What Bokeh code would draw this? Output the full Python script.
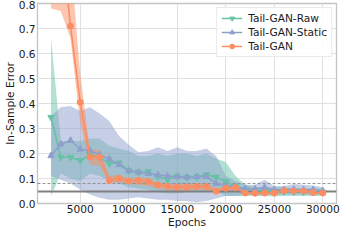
from bokeh.plotting import figure
from bokeh.models import Range1d, FixedTicker, NumeralTickFormatter, Legend, LegendItem
from bokeh.embed import file_html
from bokeh.resources import INLINE

epochs = [2000, 3000, 4000, 5000, 6000, 7000, 8000, 9000, 10000, 11000,
          12000, 13000, 14000, 15000, 16000, 17000, 18000, 19000, 20000, 21000,
          22000, 23000, 24000, 25000, 26000, 27000, 28000, 29000, 30000]

raw_mean = [0.345, 0.185, 0.185, 0.172, 0.195, 0.186, 0.160, 0.162, 0.131, 0.125,
            0.127, 0.108, 0.096, 0.108, 0.104, 0.106, 0.115, 0.106, 0.087, 0.068,
            0.055, 0.052, 0.050, 0.048, 0.048, 0.047, 0.047, 0.046, 0.045]
raw_low = [0.03, 0.12, 0.10, 0.09, 0.12, 0.11, 0.09, 0.08, 0.065, 0.06,
           0.055, 0.045, 0.04, 0.04, 0.045, 0.05, 0.05, 0.05, 0.03, 0.03,
           0.03, 0.03, 0.03, 0.028, 0.03, 0.03, 0.03, 0.03, 0.03]
raw_high = [0.66, 0.25, 0.25, 0.25, 0.26, 0.26, 0.23, 0.22, 0.21, 0.19,
            0.19, 0.20, 0.19, 0.20, 0.20, 0.19, 0.20, 0.18, 0.165, 0.11,
            0.075, 0.065, 0.065, 0.065, 0.065, 0.062, 0.062, 0.06, 0.06]

static_mean = [0.191, 0.238, 0.252, 0.217, 0.212, 0.195, 0.178, 0.155, 0.131, 0.125,
               0.120, 0.115, 0.110, 0.108, 0.105, 0.107, 0.108, 0.080, 0.072, 0.066,
               0.060, 0.058, 0.064, 0.055, 0.055, 0.056, 0.055, 0.055, 0.050]
static_low = [0.11, 0.095, 0.08, 0.055, 0.036, 0.023, 0.015, 0.015, 0.02, 0.025,
              0.02, 0.015, 0.015, 0.01, 0.01, 0.005, 0.01, 0.02, 0.03, 0.03,
              0.035, 0.035, 0.035, 0.035, 0.035, 0.035, 0.035, 0.035, 0.035]
static_high = [0.35, 0.385, 0.39, 0.37, 0.385, 0.36, 0.33, 0.27, 0.235, 0.205,
               0.21, 0.225, 0.21, 0.225, 0.21, 0.21, 0.22, 0.19, 0.11, 0.09,
               0.075, 0.075, 0.095, 0.07, 0.07, 0.078, 0.075, 0.072, 0.065]

tail_mean = [1.25, 1.08, 0.71, 0.405, 0.186, 0.186, 0.092, 0.100, 0.090, 0.092,
             0.088, 0.074, 0.069, 0.065, 0.066, 0.068, 0.068, 0.049, 0.061, 0.064,
             0.042, 0.041, 0.042, 0.042, 0.051, 0.050, 0.050, 0.044, 0.042]
tail_low = [0.78, 0.77, 0.66, 0.32, 0.155, 0.15, 0.08, 0.085, 0.078, 0.075,
            0.07, 0.06, 0.055, 0.05, 0.05, 0.055, 0.055, 0.04, 0.05, 0.05,
            0.035, 0.034, 0.035, 0.035, 0.043, 0.042, 0.042, 0.037, 0.035]
tail_high = [1.7, 1.4, 0.98, 0.52, 0.215, 0.215, 0.11, 0.115, 0.10, 0.105,
             0.10, 0.085, 0.08, 0.078, 0.08, 0.08, 0.08, 0.06, 0.075, 0.078,
             0.05, 0.049, 0.05, 0.05, 0.059, 0.058, 0.058, 0.052, 0.05]

ref_solid = 0.047
ref_dashed = 0.079

x_ticks = [5000, 10000, 15000, 20000, 25000, 30000]
y_ticks = [0.0, 0.1, 0.2, 0.3, 0.4, 0.5, 0.6, 0.7, 0.8]

GREEN = "#66c2a5"
BLUE = "#8da0cb"
ORANGE = "#fc8d62"
FONT = "DejaVu Sans"
FS = "10.6px"
TXT = "#1a1a1a"

p = figure(width=343, height=230, output_backend="svg", toolbar_location=None,
           x_range=Range1d(600, 31400), y_range=Range1d(0, 0.8),
           min_border_left=0, min_border_right=7, min_border_top=3, min_border_bottom=0,
           background_fill_color="white", border_fill_color="white")

p.outline_line_color = "#c4c4c4"
p.outline_line_width = 1.3
p.grid.grid_line_color = "#e0e0e0"
p.grid.grid_line_width = 1

p.xaxis.ticker = FixedTicker(ticks=x_ticks)
p.yaxis.ticker = FixedTicker(ticks=y_ticks)
p.yaxis.formatter = NumeralTickFormatter(format="0.0")
p.xaxis.axis_label = "Epochs"
p.yaxis.axis_label = "In-Sample Error"
for ax in (p.xaxis, p.yaxis):
    ax.axis_line_color = None
    ax.major_tick_in = 0
    ax.major_tick_out = 0
    ax.minor_tick_line_color = None
    ax.major_label_text_font = FONT
    ax.major_label_text_font_size = FS
    ax.major_label_text_color = TXT
    ax.major_label_text_line_height = 0.95
    ax.axis_label_text_font = FONT
    ax.axis_label_text_font_size = FS
    ax.axis_label_text_font_style = "normal"
    ax.axis_label_text_color = TXT
    ax.axis_label_text_line_height = 0.95
p.xaxis.major_label_standoff = 1
p.xaxis.axis_label_standoff = 0
p.yaxis.major_label_standoff = 2
p.yaxis.axis_label_standoff = 0

# bands
p.varea(x=epochs, y1=raw_low, y2=raw_high, fill_color=GREEN, fill_alpha=0.5)
p.varea(x=epochs, y1=static_low, y2=static_high, fill_color=BLUE, fill_alpha=0.5)
p.varea(x=epochs, y1=tail_low, y2=tail_high, fill_color=ORANGE, fill_alpha=0.5)

# reference lines
p.hspan(y=[ref_solid], line_color="#808080", line_width=2)
p.hspan(y=[ref_dashed], line_color="#8a8a8a", line_width=0.9, line_dash="3 2")

# lines + markers
r1 = p.line(epochs, raw_mean, line_color=GREEN, line_width=1.6)
m1 = p.scatter(epochs, raw_mean, marker="inverted_triangle", size=6.5, color=GREEN)
r2 = p.line(epochs, static_mean, line_color=BLUE, line_width=1.6)
m2 = p.scatter(epochs, static_mean, marker="triangle", size=6.5, color=BLUE)
r3 = p.line(epochs, tail_mean, line_color=ORANGE, line_width=1.6)
m3 = p.scatter(epochs, tail_mean, marker="circle", size=6, color=ORANGE)

legend = Legend(items=[
    LegendItem(label="Tail-GAN-Raw", renderers=[r1, m1]),
    LegendItem(label="Tail-GAN-Static", renderers=[r2, m2]),
    LegendItem(label="Tail-GAN", renderers=[r3, m3]),
], location="top_right")
legend.label_text_font = FONT
legend.label_text_font_size = FS
legend.label_text_color = TXT
legend.border_line_color = "#d6d6d6"
legend.border_line_width = 1
legend.background_fill_alpha = 0.85
legend.margin = 4
legend.padding = 4
legend.spacing = 2
legend.glyph_width = 21
legend.glyph_height = 12
legend.label_height = 12
legend.label_standoff = 6
p.add_layout(legend)

open("out.html", "w").write(file_html(p, INLINE))
